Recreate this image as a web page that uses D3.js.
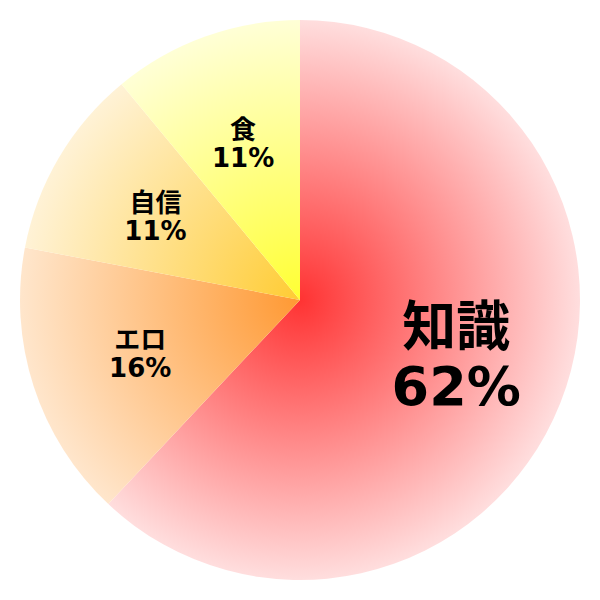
<!DOCTYPE html>
<html>
<head>
<meta charset="utf-8">
<script src="https://cdn.jsdelivr.net/npm/d3@7"></script>
<style>
  body { margin: 0; background: #fff; }
  text { font-family: "DejaVu Sans", "Noto Sans CJK JP", sans-serif; font-weight: bold; }
</style>
</head>
<body>
<div id="pie"></div>
<script>
// Data
const labels = ["知識", "エロ", "自信", "食"];
const values = [62, 16, 11, 11];
const innerColors = ["#ff3333", "#ff9933", "#ffcc33", "#ffff33"];
const outerColors = ["#ffdede", "#ffe6cc", "#fff2d6", "#ffffd6"];
const fontSizes = [54, 26, 26, 26];

const width = 600;
const height = 600;
const radius = 280;

const svg = d3.select("#pie")
    .append("svg")
    .attr("width", width)
    .attr("height", height)
    .append("g")
    .attr("transform", `translate(${width / 2},${height / 2})`);

const data = labels.map((label, i) => ({ label, value: values[i], i }));

// radial gradient per slice, centred on the pie
const defs = svg.append("defs");
data.forEach(d => {
    const grad = defs.append("radialGradient")
        .attr("id", "grad" + d.i)
        .attr("gradientUnits", "userSpaceOnUse")
        .attr("cx", 0).attr("cy", 0).attr("r", radius);
    grad.append("stop").attr("offset", "0%").attr("stop-color", innerColors[d.i]);
    grad.append("stop").attr("offset", "100%").attr("stop-color", outerColors[d.i]);
});

const pie = d3.pie()
    .sort(null)
    .value(d => d.value);

const arc = d3.arc()
    .innerRadius(0)
    .outerRadius(radius);

const labelArc = d3.arc()
    .innerRadius(168)
    .outerRadius(168);

const g = svg.selectAll(".arc")
    .data(pie(data))
    .enter()
    .append("g")
    .attr("class", "arc");

g.append("path")
    .attr("d", arc)
    .style("fill", d => `url(#grad${d.data.i})`);

// Labels: name + percentage (big label sits a bit higher)
const lift = d => fontSizes[d.data.i] > 30 ? 10 : 0;

const t = g.append("text")
    .attr("transform", d => `translate(${labelArc.centroid(d)})`)
    .attr("text-anchor", "middle")
    .style("font-size", d => fontSizes[d.data.i] + "px")
    .attr("fill", "#000");

t.append("tspan")
    .attr("x", 0)
    .attr("y", d => -0.1 * fontSizes[d.data.i] - lift(d))
    .text(d => d.data.label);

t.append("tspan")
    .attr("x", 0)
    .attr("y", d => 0.98 * fontSizes[d.data.i] - lift(d))
    .text(d => d.data.value + "%");
</script>
</body>
</html>
